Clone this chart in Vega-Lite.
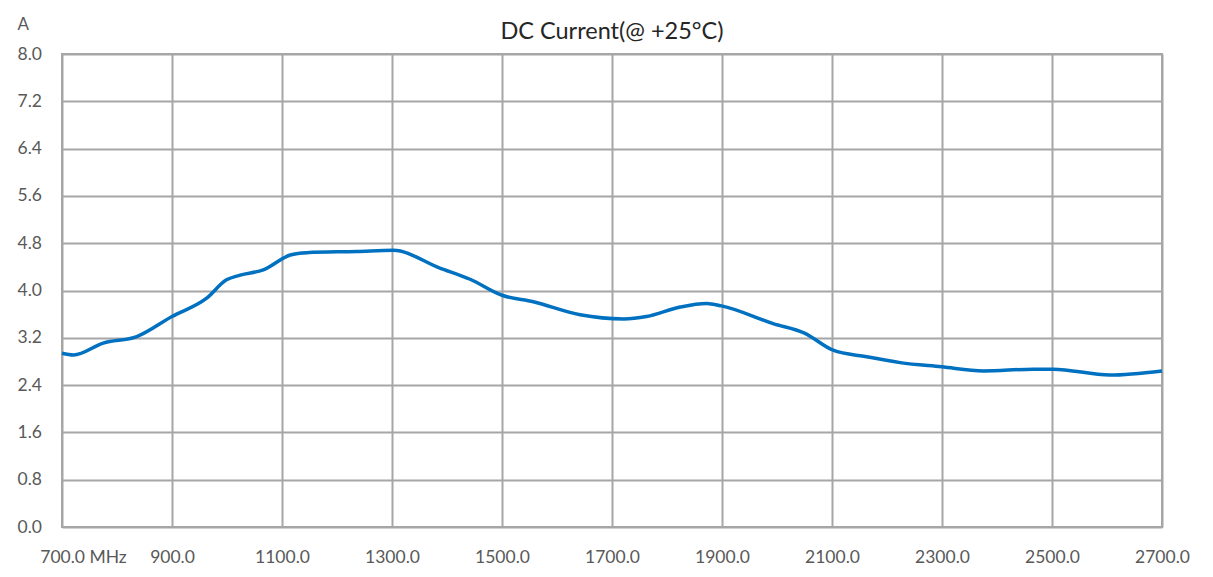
{
  "$schema": "https://vega.github.io/schema/vega-lite/v6.json",
  "width": 1100,
  "height": 473,
  "autosize": "none",
  "padding": {"left": 62, "top": 54, "right": 51, "bottom": 50},
  "background": "white",
  "title": {
    "text": "DC Current(@ +25°C)",
    "font": "Lato",
    "fontSize": 23.5,
    "fontWeight": "normal",
    "color": "#262626",
    "anchor": "middle",
    "offset": 0,
    "dy": 52,
    "baseline": "bottom"
  },
  "config": {
    "view": {"stroke": "#a6a6a6", "strokeWidth": 2},
    "axis": {
      "labelFont": "Lato",
      "labelFontSize": 17.5,
      "labelColor": "#595959",
      "domain": false,
      "ticks": false,
      "grid": true,
      "gridColor": "#a6a6a6",
      "gridWidth": 2,
      "gridOpacity": 1
    }
  },
  "data": {
    "values": [
      {"f": 700, "v": 2.94},
      {"f": 721, "v": 2.91},
      {"f": 775, "v": 3.11},
      {"f": 836, "v": 3.22},
      {"f": 900, "v": 3.56},
      {"f": 963, "v": 3.87},
      {"f": 999, "v": 4.18},
      {"f": 1024, "v": 4.26},
      {"f": 1066, "v": 4.35},
      {"f": 1115, "v": 4.6},
      {"f": 1145, "v": 4.64},
      {"f": 1236, "v": 4.66},
      {"f": 1302, "v": 4.68},
      {"f": 1387, "v": 4.38},
      {"f": 1442, "v": 4.19},
      {"f": 1500, "v": 3.92},
      {"f": 1557, "v": 3.81},
      {"f": 1642, "v": 3.59},
      {"f": 1721, "v": 3.52},
      {"f": 1763, "v": 3.56},
      {"f": 1824, "v": 3.72},
      {"f": 1872, "v": 3.78},
      {"f": 1899, "v": 3.74},
      {"f": 1993, "v": 3.44},
      {"f": 2050, "v": 3.28},
      {"f": 2102, "v": 2.99},
      {"f": 2163, "v": 2.88},
      {"f": 2224, "v": 2.78},
      {"f": 2299, "v": 2.71},
      {"f": 2375, "v": 2.64},
      {"f": 2466, "v": 2.67},
      {"f": 2502, "v": 2.67},
      {"f": 2605, "v": 2.57},
      {"f": 2700, "v": 2.64}
    ]
  },
  "mark": {"type": "line", "color": "#0070C0", "strokeWidth": 3.5, "interpolate": "monotone"},
  "encoding": {
    "x": {
      "field": "f",
      "type": "quantitative",
      "scale": {"domain": [700, 2700], "nice": false, "zero": false},
      "axis": {
        "title": null,
        "values": [700, 900, 1100, 1300, 1500, 1700, 1900, 2100, 2300, 2500, 2700],
        "labelExpr": "datum.value == 700 ? '700.0 MHz' : format(datum.value, '.1f')",
        "labelPadding": 21,
        "labelBound": false,
        "labelFlush": false,
        "labelOverlap": false,
        "labelOffset": {"condition": {"test": "datum.value == 700", "value": 21}, "value": 0}
      }
    },
    "y": {
      "field": "v",
      "type": "quantitative",
      "scale": {"domain": [0, 8], "nice": false},
      "axis": {
        "title": "A",
        "titleAngle": 0,
        "titleFont": "Lato",
        "titleFontSize": 17,
        "titleFontWeight": "normal",
        "titleColor": "#595959",
        "titleAlign": "left",
        "titleBaseline": "middle",
        "titleX": -45,
        "titleY": -30,
        "values": [0, 0.8, 1.6, 2.4, 3.2, 4.0, 4.8, 5.6, 6.4, 7.2, 8.0],
        "format": ".1f",
        "labelAlign": "left",
        "labelPadding": 45,
        "labelFlush": false,
        "labelOverlap": false
      }
    }
  }
}
